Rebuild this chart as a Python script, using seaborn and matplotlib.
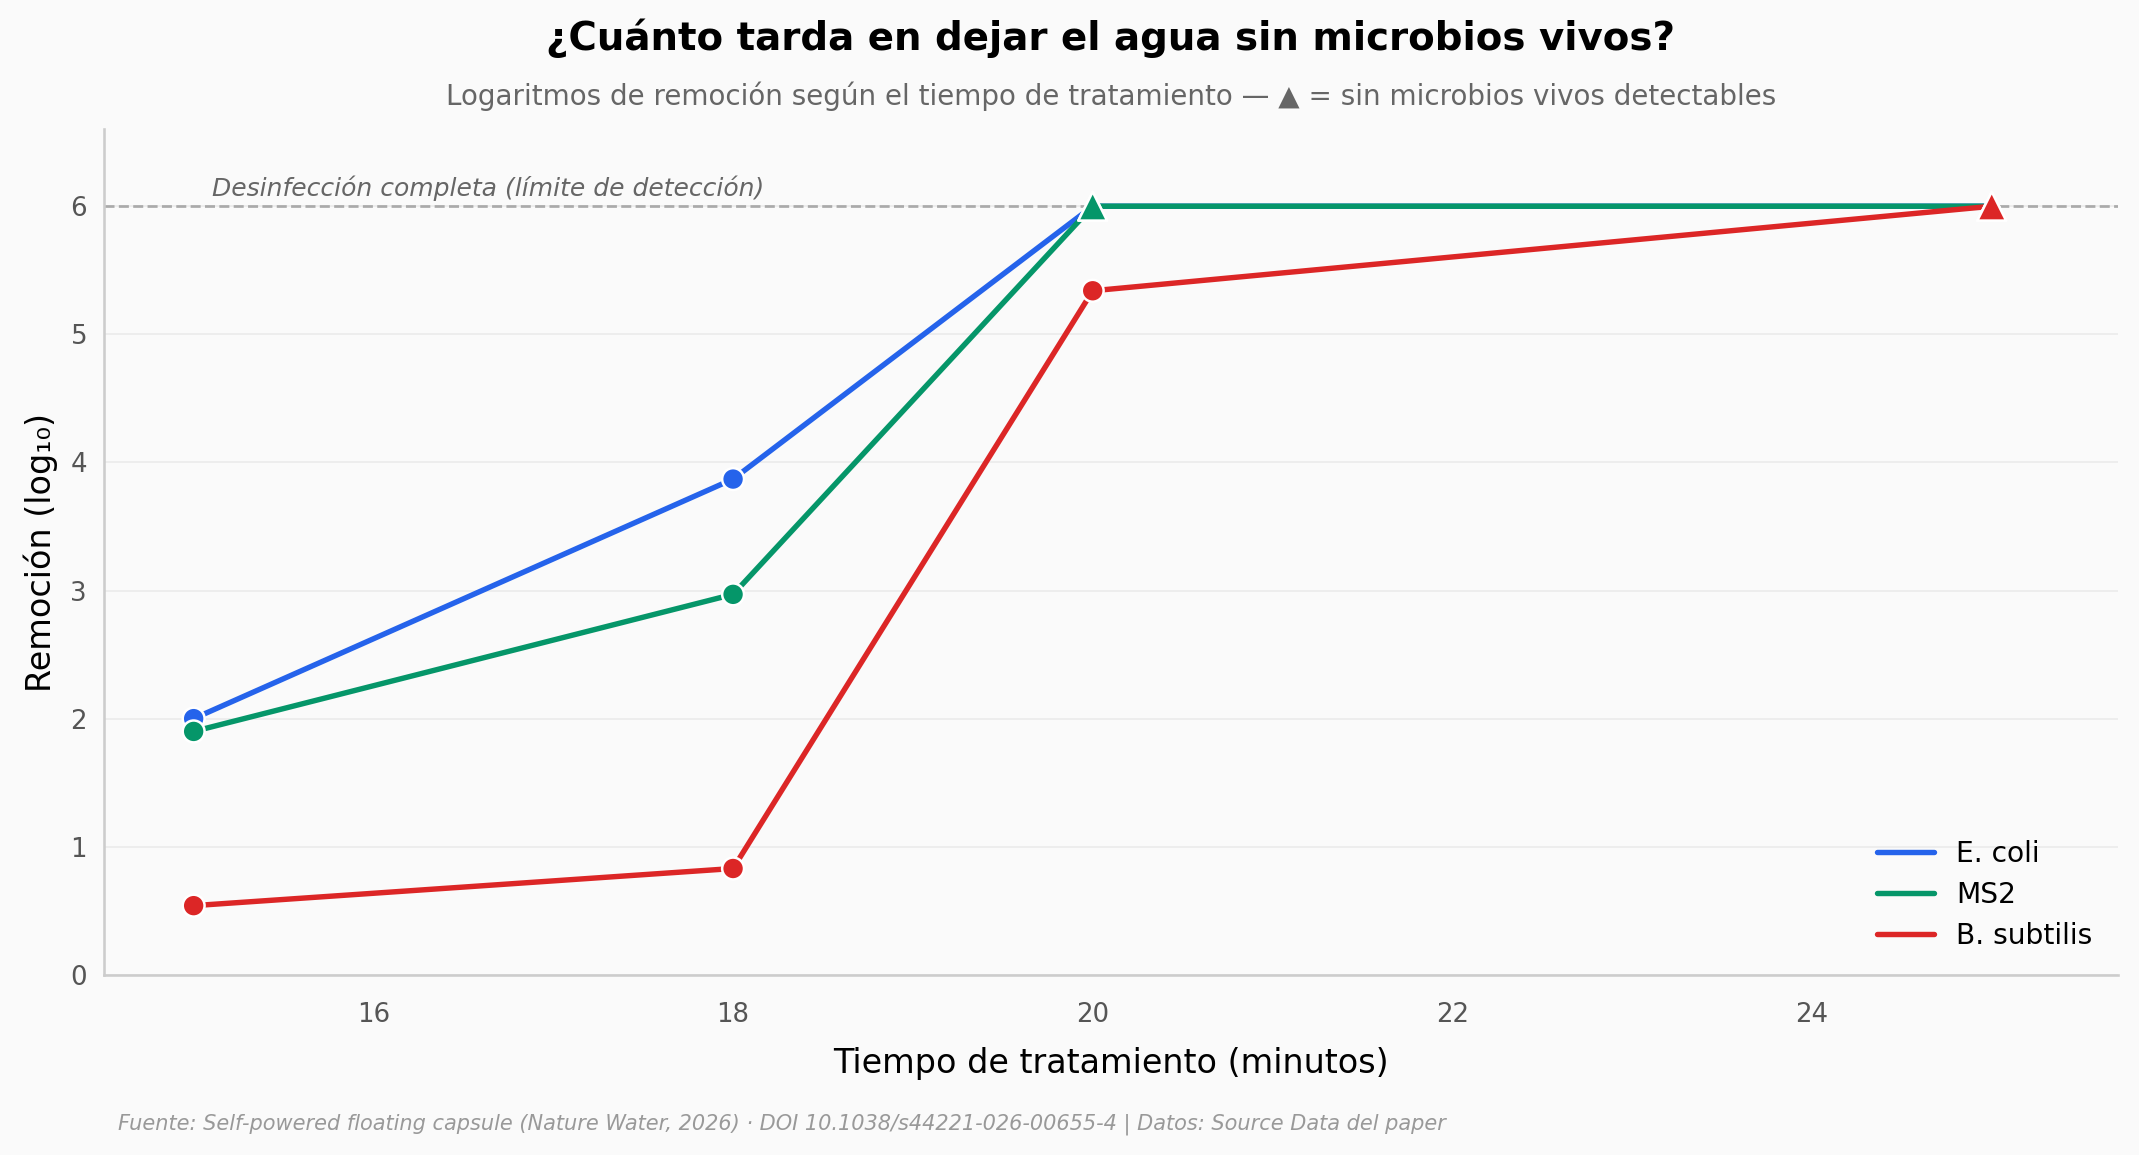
import matplotlib
matplotlib.use("Agg")
import matplotlib.pyplot as plt
import seaborn as sns
import pandas as pd

# data
tiempos = [15, 18, 20, 25]
ecoli = [2.0, 3.87, 6.0, 6.0]
ms2 = [1.9, 2.97, 6.0, 6.0]
bsubtilis = [0.54, 0.83, 5.34, 6.0]
limite = 6.0

especies = ["E. coli", "MS2", "B. subtilis"]
colores = {"E. coli": "#2563eb", "MS2": "#059669", "B. subtilis": "#dc2626"}

rows = []
for nombre, vals in zip(especies, [ecoli, ms2, bsubtilis]):
    for t, v in zip(tiempos, vals):
        rows.append({"Tiempo": t, "Remocion": v, "Especie": nombre,
                     "Estado": "completa" if v >= limite else "parcial"})
df = pd.DataFrame(rows)

sns.set_theme(style="white")
plt.rcParams['font.family'] = ['DejaVu Sans']
plt.rcParams['text.color'] = 'black'
plt.rcParams['axes.labelcolor'] = 'black'
bg = "#fafafa"

fig, ax = plt.subplots(figsize=(14.26, 7.7), dpi=150)
fig.patch.set_facecolor(bg)
ax.set_facecolor(bg)
fig.subplots_adjust(left=0.0485, right=0.99, top=0.888, bottom=0.156)

ax.axhline(limite, color="#aaaaaa", lw=1.3, ls="--", zorder=1)
ax.text(15.1, limite + 0.04, "Desinfección completa (límite de detección)",
        fontsize=12, style="italic", color="#666666", va="bottom")

sns.lineplot(data=df, x="Tiempo", y="Remocion", hue="Especie", hue_order=especies,
             palette=colores, lw=2.6, ax=ax, zorder=3)

for nombre in especies:
    sub = df[df["Especie"] == nombre]
    sns.scatterplot(data=sub, x="Tiempo", y="Remocion", style="Estado",
                    markers={"parcial": "o", "completa": "^"},
                    style_order=["parcial", "completa"],
                    size="Estado", sizes={"parcial": 110, "completa": 190},
                    color=colores[nombre], edgecolor="white", linewidth=1.2,
                    ax=ax, zorder=4, legend=False)

ax.set_xlim(14.5, 25.7)
ax.set_ylim(0, 6.6)
ax.set_xticks([16, 18, 20, 22, 24])
ax.set_yticks(range(0, 7))
ax.grid(axis="y", color="#ebebeb", lw=0.8)
ax.set_axisbelow(True)
sns.despine(ax=ax)
for s in ["left", "bottom"]:
    ax.spines[s].set_color("#cccccc")
ax.tick_params(axis="x", length=5, color="#bbbbbb", labelsize=12.5, labelcolor="#555555", pad=8)
ax.tick_params(axis="y", length=0, labelsize=12.5, labelcolor="#555555", pad=8)

ax.set_xlabel("Tiempo de tratamiento (minutos)", fontsize=16, labelpad=9)
ax.set_ylabel("Remoción (log₁₀)", fontsize=16, labelpad=6)

leg = ax.legend(loc="lower right", frameon=False, fontsize=13.5, handlelength=2.0,
                handletextpad=0.8, labelspacing=0.45, borderaxespad=0.5)
for line in leg.get_lines():
    line.set_linewidth(2.6)

cx = (fig.subplotpars.left + fig.subplotpars.right) / 2
fig.text(cx, 0.967, "¿Cuánto tarda en dejar el agua sin microbios vivos?",
         ha="center", va="center", fontsize=18.6, fontweight="bold", color="black")
fig.text(cx, 0.917, "Logaritmos de remoción según el tiempo de tratamiento — ▲ = sin microbios vivos detectables",
         ha="center", va="center", fontsize=13.3, color="#666666")
fig.text(0.055, 0.027, "Fuente: Self-powered floating capsule (Nature Water, 2026) · DOI 10.1038/s44221-026-00655-4 | Datos: Source Data del paper",
         ha="left", va="center", fontsize=10, style="italic", color="#999999")

fig.savefig("out.png", dpi=150, facecolor=bg)
